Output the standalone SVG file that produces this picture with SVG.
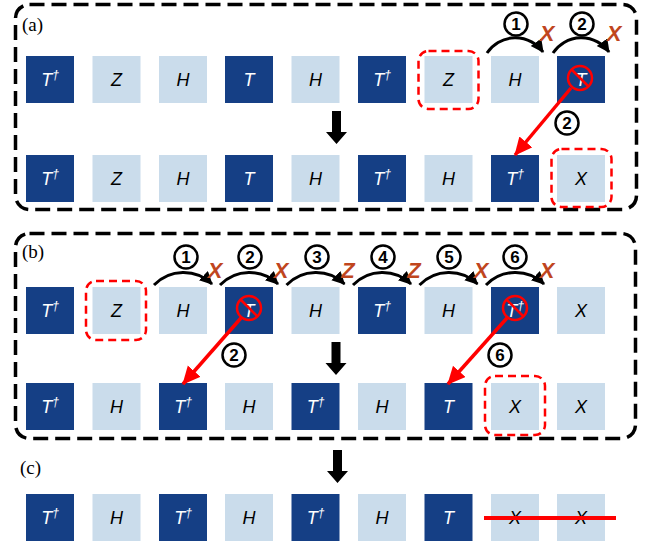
<svg xmlns="http://www.w3.org/2000/svg" xmlns:xlink="http://www.w3.org/1999/xlink" width="662" height="548" viewBox="0 0 662 548">
  <style>
    .d { fill: #153F85; }
    .l { fill: #CADCEB; }
    .g { font-family: "Liberation Sans", Arial, sans-serif; font-style: italic; font-size: 18px; text-anchor: middle; }
    .gw { fill: #FFFFFF; }
    .gk { fill: #000000; }
    .sup { font-size: 12px; }
    .frame { fill: none; stroke: #000; stroke-width: 3.5; stroke-dasharray: 15 7; }
    .sel { fill: none; stroke: #FF0000; stroke-width: 2.5; stroke-dasharray: 8 5; }
    .label { font-family: "Liberation Serif", "Times New Roman", serif; font-size: 19px; fill: #000; }
    .hop { fill: none; stroke: #000; stroke-width: 3; marker-end: url(#blackHead); }
    .move { fill: none; stroke: #FF0000; stroke-width: 3.5; marker-end: url(#redHead); }
    .num circle { fill: #fff; stroke: #000; stroke-width: 2.5; }
    .num text { font-family: "Liberation Sans", Arial, sans-serif; font-weight: bold; font-size: 17px; text-anchor: middle; fill: #000; }
    .pauli { font-family: "Liberation Sans", Arial, sans-serif; font-weight: bold; font-style: italic; font-size: 22px; text-anchor: middle; fill: #C0461E; }
    .cross { fill: none; stroke: #FF0000; stroke-width: 2.5; }
  </style>
  <defs>
    <marker id="blackHead" markerUnits="userSpaceOnUse" markerWidth="16" markerHeight="16" refX="12" refY="6.5" orient="auto">
      <path d="M0,0 L13,6.5 L0,13 Z" fill="#000"/>
    </marker>
    <marker id="redHead" markerUnits="userSpaceOnUse" markerWidth="20" markerHeight="20" refX="17" refY="8.5" orient="auto">
      <path d="M0,0 L18,8.5 L0,17 Z" fill="#FF0000"/>
    </marker>
    <path id="down" d="M-4.5,0 H4.5 V21 H10.5 L0,33 L-10.5,21 H-4.5 Z" fill="#000"/>
  </defs>

  <!-- panel frames and labels -->
  <rect class="frame" x="15.5" y="4.5" width="621" height="205" rx="14"/>
  <rect class="frame" x="15.5" y="233.5" width="620" height="205" rx="14"/>
  <text class="label" x="22" y="31">(a)</text>
  <text class="label" x="22" y="258">(b)</text>
  <text class="label" x="20" y="474">(c)</text>

  <!-- (a) upper row -->
  <g id="a1">
    <g id="a1-0"><rect class="d" x="26" y="56" width="48" height="47"/><text class="g gw" x="50" y="86">T<tspan class="sup" dy="-7">†</tspan></text></g>
    <g id="a1-1"><rect class="l" x="92.5" y="56" width="48" height="47"/><text class="g gk" x="116.5" y="86">Z</text></g>
    <g id="a1-2"><rect class="l" x="159" y="56" width="48" height="47"/><text class="g gk" x="183" y="86">H</text></g>
    <g id="a1-3"><rect class="d" x="225" y="56" width="48" height="47"/><text class="g gw" x="249" y="86">T</text></g>
    <g id="a1-4"><rect class="l" x="291.5" y="56" width="48" height="47"/><text class="g gk" x="315.5" y="86">H</text></g>
    <g id="a1-5"><rect class="d" x="358" y="56" width="48" height="47"/><text class="g gw" x="382" y="86">T<tspan class="sup" dy="-7">†</tspan></text></g>
    <g id="a1-6"><rect class="l" x="424.5" y="56" width="48" height="47"/><text class="g gk" x="448.5" y="86">Z</text><rect class="sel" x="418.5" y="51" width="60" height="58" rx="10"/></g>
    <g id="a1-7"><rect class="l" x="491" y="56" width="48" height="47"/><text class="g gk" x="515" y="86">H</text></g>
    <g id="a1-8"><rect class="d" x="557" y="56" width="48" height="47"/><text class="g gw" x="581" y="86">T</text>
      <circle class="cross" cx="580" cy="78" r="12"/><line class="cross" x1="571.5" y1="69.5" x2="588.5" y2="86.5"/></g>
  </g>

  <!-- (a) lower row -->
  <g id="a2">
    <g id="a2-0"><rect class="d" x="26" y="155" width="48" height="47"/><text class="g gw" x="50" y="185">T<tspan class="sup" dy="-7">†</tspan></text></g>
    <g id="a2-1"><rect class="l" x="92.5" y="155" width="48" height="47"/><text class="g gk" x="116.5" y="185">Z</text></g>
    <g id="a2-2"><rect class="l" x="159" y="155" width="48" height="47"/><text class="g gk" x="183" y="185">H</text></g>
    <g id="a2-3"><rect class="d" x="225" y="155" width="48" height="47"/><text class="g gw" x="249" y="185">T</text></g>
    <g id="a2-4"><rect class="l" x="291.5" y="155" width="48" height="47"/><text class="g gk" x="315.5" y="185">H</text></g>
    <g id="a2-5"><rect class="d" x="358" y="155" width="48" height="47"/><text class="g gw" x="382" y="185">T<tspan class="sup" dy="-7">†</tspan></text></g>
    <g id="a2-6"><rect class="l" x="424.5" y="155" width="48" height="47"/><text class="g gk" x="448.5" y="185">H</text></g>
    <g id="a2-7"><rect class="d" x="491" y="155" width="48" height="47"/><text class="g gw" x="515" y="185">T<tspan class="sup" dy="-7">†</tspan></text></g>
    <g id="a2-8"><rect class="l" x="557" y="155" width="48" height="47"/><text class="g gk" x="581" y="185">X</text><rect class="sel" x="551.5" y="149" width="60" height="58" rx="10"/></g>
  </g>

  <!-- (b) upper row -->
  <g id="b1">
    <g id="b1-0"><rect class="d" x="26" y="287" width="48" height="47"/><text class="g gw" x="50" y="317">T<tspan class="sup" dy="-7">†</tspan></text></g>
    <g id="b1-1"><rect class="l" x="92.5" y="287" width="48" height="47"/><text class="g gk" x="116.5" y="317">Z</text><rect class="sel" x="86" y="281" width="60" height="59" rx="10"/></g>
    <g id="b1-2"><rect class="l" x="159" y="287" width="48" height="47"/><text class="g gk" x="183" y="317">H</text></g>
    <g id="b1-3"><rect class="d" x="225" y="287" width="48" height="47"/><text class="g gw" x="249" y="317">T</text>
      <circle class="cross" cx="249" cy="308" r="12"/><line class="cross" x1="240.5" y1="299.5" x2="257.5" y2="316.5"/></g>
    <g id="b1-4"><rect class="l" x="291.5" y="287" width="48" height="47"/><text class="g gk" x="315.5" y="317">H</text></g>
    <g id="b1-5"><rect class="d" x="358" y="287" width="48" height="47"/><text class="g gw" x="382" y="317">T<tspan class="sup" dy="-7">†</tspan></text></g>
    <g id="b1-6"><rect class="l" x="424.5" y="287" width="48" height="47"/><text class="g gk" x="448.5" y="317">H</text></g>
    <g id="b1-7"><rect class="d" x="491" y="287" width="48" height="47"/><text class="g gw" x="515" y="317">T<tspan class="sup" dy="-7">†</tspan></text>
      <circle class="cross" cx="515" cy="308" r="12"/><line class="cross" x1="506.5" y1="299.5" x2="523.5" y2="316.5"/></g>
    <g id="b1-8"><rect class="l" x="557" y="287" width="48" height="47"/><text class="g gk" x="581" y="317">X</text></g>
  </g>

  <!-- (b) lower row -->
  <g id="b2">
    <g id="b2-0"><rect class="d" x="26" y="383" width="48" height="47"/><text class="g gw" x="50" y="413">T<tspan class="sup" dy="-7">†</tspan></text></g>
    <g id="b2-1"><rect class="l" x="92.5" y="383" width="48" height="47"/><text class="g gk" x="116.5" y="413">H</text></g>
    <g id="b2-2"><rect class="d" x="159" y="383" width="48" height="47"/><text class="g gw" x="183" y="413">T<tspan class="sup" dy="-7">†</tspan></text></g>
    <g id="b2-3"><rect class="l" x="225" y="383" width="48" height="47"/><text class="g gk" x="249" y="413">H</text></g>
    <g id="b2-4"><rect class="d" x="291.5" y="383" width="48" height="47"/><text class="g gw" x="315.5" y="413">T<tspan class="sup" dy="-7">†</tspan></text></g>
    <g id="b2-5"><rect class="l" x="358" y="383" width="48" height="47"/><text class="g gk" x="382" y="413">H</text></g>
    <g id="b2-6"><rect class="d" x="424.5" y="383" width="48" height="47"/><text class="g gw" x="448.5" y="413">T</text></g>
    <g id="b2-7"><rect class="l" x="491" y="383" width="48" height="47"/><text class="g gk" x="515" y="413">X</text><rect class="sel" x="485" y="376" width="60" height="59" rx="10"/></g>
    <g id="b2-8"><rect class="l" x="557" y="383" width="48" height="47"/><text class="g gk" x="581" y="413">X</text></g>
  </g>

  <!-- (c) result row -->
  <g id="c">
    <g id="c-0"><rect class="d" x="26" y="494" width="48" height="47"/><text class="g gw" x="50" y="524">T<tspan class="sup" dy="-7">†</tspan></text></g>
    <g id="c-1"><rect class="l" x="92.5" y="494" width="48" height="47"/><text class="g gk" x="116.5" y="524">H</text></g>
    <g id="c-2"><rect class="d" x="159" y="494" width="48" height="47"/><text class="g gw" x="183" y="524">T<tspan class="sup" dy="-7">†</tspan></text></g>
    <g id="c-3"><rect class="l" x="225" y="494" width="48" height="47"/><text class="g gk" x="249" y="524">H</text></g>
    <g id="c-4"><rect class="d" x="291.5" y="494" width="48" height="47"/><text class="g gw" x="315.5" y="524">T<tspan class="sup" dy="-7">†</tspan></text></g>
    <g id="c-5"><rect class="l" x="358" y="494" width="48" height="47"/><text class="g gk" x="382" y="524">H</text></g>
    <g id="c-6"><rect class="d" x="424.5" y="494" width="48" height="47"/><text class="g gw" x="448.5" y="524">T</text></g>
    <g id="c-7"><rect class="l" x="491" y="494" width="48" height="47"/><text class="g gk" x="515" y="524">X</text></g>
    <g id="c-8"><rect class="l" x="557" y="494" width="48" height="47"/><text class="g gk" x="581" y="524">X</text></g>
  </g>

  <!-- connectors: commutation hops, gate moves, step arrows -->
  <g id="connectors">
    <!-- (a) hops -->
    <path class="hop" d="M487,53 A34,34 0 0 1 543,52"/>
    <path class="hop" d="M553,53 A34,34 0 0 1 609,52"/>
    <!-- (b) hops -->
    <path class="hop" d="M154,285 A41,41 0 0 1 212,284"/>
    <path class="hop" d="M220,285 A41,41 0 0 1 278,284"/>
    <path class="hop" d="M286.5,285 A41,41 0 0 1 344.5,284"/>
    <path class="hop" d="M353,285 A41,41 0 0 1 411,284"/>
    <path class="hop" d="M419.5,285 A41,41 0 0 1 477.5,284"/>
    <path class="hop" d="M486,285 A41,41 0 0 1 544,284"/>

    <!-- gate moves -->
    <line class="move" x1="571" y1="88" x2="515" y2="155"/>
    <line class="move" x1="241" y1="318" x2="183" y2="384"/>
    <line class="move" x1="507" y1="318" x2="448" y2="384"/>

    <!-- red strike through the cancelled X pair -->
    <line x1="484" y1="518" x2="616" y2="518" stroke="#FF0000" stroke-width="4"/>

    <!-- step arrows -->
    <use xlink:href="#down" transform="translate(336.5,111)"/>
    <use xlink:href="#down" transform="translate(336,342)"/>
    <use xlink:href="#down" transform="translate(337.5,450)"/>
  </g>

  <!-- step numbers -->
  <g id="steps">
    <g class="num"><circle cx="516" cy="24" r="11.5"/><text x="516" y="30">1</text></g>
    <g class="num"><circle cx="582" cy="24" r="11.5"/><text x="582" y="30">2</text></g>
    <g class="num"><circle cx="567" cy="123" r="11.5"/><text x="567" y="129">2</text></g>

    <g class="num"><circle cx="186" cy="257" r="11.5"/><text x="186" y="263">1</text></g>
    <g class="num"><circle cx="250" cy="257" r="11.5"/><text x="250" y="263">2</text></g>
    <g class="num"><circle cx="317" cy="257" r="11.5"/><text x="317" y="263">3</text></g>
    <g class="num"><circle cx="383" cy="257" r="11.5"/><text x="383" y="263">4</text></g>
    <g class="num"><circle cx="449" cy="257" r="11.5"/><text x="449" y="263">5</text></g>
    <g class="num"><circle cx="515" cy="257" r="11.5"/><text x="515" y="263">6</text></g>
    <g class="num"><circle cx="234" cy="355" r="11.5"/><text x="234" y="361">2</text></g>
    <g class="num"><circle cx="500" cy="355" r="11.5"/><text x="500" y="361">6</text></g>
  </g>

  <!-- Pauli operators picked up while commuting -->
  <g id="paulis">
    <text class="pauli" x="547" y="41">X</text>
    <text class="pauli" x="614" y="41">X</text>
    <text class="pauli" x="215" y="278">X</text>
    <text class="pauli" x="281" y="278">X</text>
    <text class="pauli" x="348" y="278">Z</text>
    <text class="pauli" x="414" y="278">Z</text>
    <text class="pauli" x="481" y="278">X</text>
    <text class="pauli" x="547" y="278">X</text>
  </g>
</svg>
